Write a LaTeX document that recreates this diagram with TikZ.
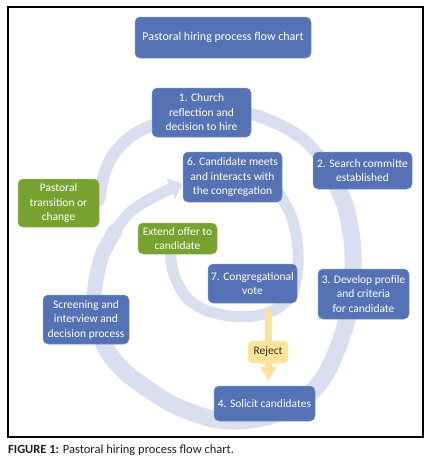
\documentclass[tikz,border=0pt]{standalone}
\usepackage{fontspec}
\setmainfont{Carlito}
\usepackage{tikz}
\usetikzlibrary{arrows.meta,calc,positioning}
\definecolor{Box_Blue}{HTML}{5572B5}
\definecolor{Box_Green}{HTML}{77A22F}
\definecolor{Band_Blue}{HTML}{D9DFEF}
\definecolor{Reject_Yellow}{HTML}{FDE39B}
\definecolor{Reject_Text}{HTML}{3B2C1E}
\definecolor{Caption_Gray}{HTML}{231F20}

\begin{document}
\begin{tikzpicture}[x=1pt, y=-1pt,
    box/.style={rounded corners=5pt, fill=Box_Blue, draw=Box_Blue!75!white, line width=0.5pt,
                text=white, align=center, inner sep=1pt, font=\fontsize{11.5}{14.5}\selectfont},
    greenbox/.style={box, fill=Box_Green, draw=Box_Green!75!white},
    band/.style={Band_Blue, line cap=round, line join=round}]

    \useasboundingbox (0,0) rectangle (435,464);
    \fill[white] (0,0) rectangle (435,464);

    % Frame
    \draw[line width=1.2pt] (8,7) rectangle (423,437);

    % Spiral band (boxes sit on top of it)
    \draw[band, line width=12pt] plot[smooth] coordinates
        {(99,200) (104,175) (113,155) (130,137) (153,125) (201,111) (250,114) (280,125) (303,139) (320,157) (333,178)};
    \draw[band, line width=17pt] plot[smooth] coordinates
        {(333,178) (345,205) (352,240) (353,275) (348,315) (337,350) (322,380) (300,402) (270,416)
         (240,421) (213,419) (185,410) (163,399) (130,376) (110,355) (98,330)};
    \draw[band, line width=15pt] plot[smooth] coordinates
        {(98,330) (93,305) (97,275) (103,253) (115,231)};
    \draw[band, line width=11pt, line cap=butt, -{Triangle[width=22pt,length=12pt]}] plot[smooth] coordinates
        {(115,231) (130,212) (150,199) (168,190) (182,184)};
    \draw[band, line width=11pt] plot[smooth] coordinates
        {(278,192) (291,215) (297,240) (298,265) (293,292) (278,308) (255,316) (230,316)
         (205,310) (187,298) (176,280) (171,262) (171,248)};

    % Title
    \node[box, minimum width=176pt, minimum height=41pt, font=\fontsize{12}{14.5}\selectfont] (title) at (223,37.5) {Pastoral hiring process flow chart};

    % Steps
    \node[box, minimum width=99pt, minimum height=49pt] (church) at (201.5,112.5) {1. Church\\reflection and\\decision to hire};
    \node[box, minimum width=99pt, minimum height=37pt] (search) at (362.5,170.5) {2. Search committe\\established};
    \node[box, minimum width=91pt, minimum height=50pt] (profile) at (363.5,294) {3. Develop profile\\and criteria\\for candidate};
    \node[box, minimum width=101pt, minimum height=35pt] (solicit) at (264.5,403.5) {4. Solicit candidates};
    \node[box, minimum width=86pt, minimum height=49pt] (screening) at (86,319.5) {Screening and\\interview and\\decision process};
    \node[box, minimum width=99pt, minimum height=50pt] (meets) at (232.5,177) {6. Candidate meets\\and interacts with\\the congregation};
    \node[box, minimum width=89pt, minimum height=39pt] (vote) at (252.5,283.5) {7. Congregational\\vote};

    % Green boxes
    \node[greenbox, minimum width=81pt, minimum height=48pt] (transition) at (58.5,203) {Pastoral\\transition or\\change};
    \node[greenbox, minimum width=79pt, minimum height=31pt] (offer) at (177.5,238.5) {Extend offer to\\candidate};

    % Reject arrow
    \draw[Reject_Yellow, line width=7pt, shorten <=7pt, shorten >=5pt, -{Triangle[width=16pt,length=14pt]}]
        ([xshift=16pt]vote.south) -- ([xshift=4pt]solicit.north);
    \node[box, fill=Reject_Yellow, draw=Reject_Yellow, text=Reject_Text, minimum width=40pt, minimum height=22pt] (reject) at (268,352) {Reject};

    % Caption
    \node[anchor=west, text=Caption_Gray, inner sep=0pt, font=\fontsize{12.5}{14}\selectfont] (caption) at (8,450)
        {\textbf{FIGURE 1:} Pastoral hiring process flow chart.};

\end{tikzpicture}
\end{document}
